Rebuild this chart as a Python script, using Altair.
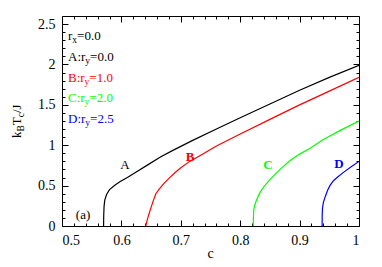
import altair as alt
import pandas as pd

# ---- data ----
names = ["A", "B", "C", "D"]
colors = ["#000000", "#ff0000", "#00ff00", "#0000ff"]

a_c = [0.570, 0.5702, 0.5708, 0.572, 0.575, 0.580, 0.590, 0.598, 0.610, 0.625, 0.645, 0.665, 0.685, 0.720, 0.760, 0.800, 0.850, 0.900, 0.950, 1.000]
a_t = [0.00, 0.12, 0.24, 0.32, 0.39, 0.45, 0.51, 0.55, 0.60, 0.67, 0.76, 0.85, 0.93, 1.06, 1.20, 1.34, 1.51, 1.68, 1.84, 1.99]

b_c = [0.641, 0.643, 0.646, 0.650, 0.654, 0.658, 0.664, 0.672, 0.680, 0.690, 0.700, 0.715, 0.732, 0.760, 0.800, 0.850, 0.900, 0.950, 1.000]
b_t = [0.00, 0.06, 0.14, 0.23, 0.32, 0.40, 0.46, 0.53, 0.59, 0.66, 0.72, 0.80, 0.87, 0.99, 1.14, 1.32, 1.50, 1.67, 1.84]

c_c = [0.822, 0.8222, 0.8228, 0.825, 0.828, 0.833, 0.839, 0.847, 0.856, 0.870, 0.884, 0.900, 0.917, 0.940, 0.970, 1.000]
c_t = [0.00, 0.10, 0.20, 0.27, 0.33, 0.41, 0.48, 0.55, 0.62, 0.72, 0.81, 0.89, 0.96, 1.07, 1.19, 1.30]

d_c = [0.938, 0.938, 0.9385, 0.940, 0.943, 0.947, 0.951, 0.957, 0.963, 0.975, 0.988, 1.000]
d_t = [0.00, 0.12, 0.22, 0.29, 0.36, 0.44, 0.50, 0.56, 0.60, 0.67, 0.74, 0.80]

label_c = [0.606, 0.7155, 0.8468, 0.9663]
label_t = [0.758, 0.857, 0.758, 0.770]
panel_label = "(a)"
panel_c, panel_t = 0.5354, 0.137

x_major = [0.5, 0.6, 0.7, 0.8, 0.9, 1.0]
x_ticks = [0.5, 0.52, 0.54, 0.56, 0.58, 0.6, 0.62, 0.64, 0.66, 0.68, 0.7, 0.72, 0.74,
           0.76, 0.78, 0.8, 0.82, 0.84, 0.86, 0.88, 0.9, 0.92, 0.94, 0.96, 0.98, 1.0]
y_major = [0, 0.5, 1, 1.5, 2, 2.5]
y_ticks = [0, 0.1, 0.2, 0.3, 0.4, 0.5, 0.6, 0.7, 0.8, 0.9, 1.0, 1.1, 1.2, 1.3, 1.4,
           1.5, 1.6, 1.7, 1.8, 1.9, 2.0, 2.1, 2.2, 2.3, 2.4, 2.5]

rows = []
for nm, cs, ts in zip(names, [a_c, b_c, c_c, d_c], [a_t, b_t, c_t, d_t]):
    for i, (c, t) in enumerate(zip(cs, ts)):
        rows.append({"c": c, "T": t, "s": nm, "o": i})
df = pd.DataFrame(rows)
lab_df = pd.DataFrame({"c": label_c, "T": label_t, "s": names})

W, H = 297, 210
FONT = "Liberation Serif"
xs = alt.Scale(domain=[0.5, 1.0], nice=False, zero=False)
ys = alt.Scale(domain=[0, 2.6], nice=False, zero=True)
cscale = alt.Scale(domain=names, range=colors)

x_test = "abs(datum.value*10 - round(datum.value*10)) < 0.001"
y_test = "abs(datum.value*2 - round(datum.value*2)) < 0.001"


def tick_axis(orient, values, test, offset):
    return alt.Axis(orient=orient, offset=offset, values=values, labels=False, domain=False,
                    grid=False, ticks=True, title=None, tickColor="black", tickWidth=1,
                    tickSize={"condition": {"test": test, "value": 6}, "value": 3})


def label_axis(orient, values, pad):
    return alt.Axis(orient=orient, values=values, format="~g", ticks=False, tickSize=0,
                    domain=False, grid=False, labelPadding=pad, title=None,
                    labelFont=FONT, labelFontSize=14, labelColor="black")


curves = alt.Chart(df).mark_line(strokeWidth=1.2, clip=True).encode(
    x=alt.X("c:Q", scale=xs, axis=label_axis("bottom", x_major, 7)),
    y=alt.Y("T:Q", scale=ys, axis=label_axis("left", y_major, 7)),
    color=alt.Color("s:N", scale=cscale, legend=None),
    order="o:Q",
)

ticks1 = alt.Chart(df).mark_point(opacity=0).encode(
    x=alt.X("c:Q", scale=xs, axis=tick_axis("top", x_ticks, x_test, -H)),
    y=alt.Y("T:Q", scale=ys, axis=tick_axis("right", y_ticks, y_test, -W)),
)
ticks2 = alt.Chart(df).mark_point(opacity=0).encode(
    x=alt.X("c:Q", scale=xs, axis=tick_axis("bottom", x_ticks, x_test, -H)),
    y=alt.Y("T:Q", scale=ys, axis=tick_axis("left", y_ticks, y_test, -W)),
)

lab_a = alt.Chart(lab_df[lab_df.s == "A"]).mark_text(font=FONT, fontSize=13).encode(
    x=alt.X("c:Q", scale=xs, axis=None), y=alt.Y("T:Q", scale=ys, axis=None),
    text="s:N", color=alt.Color("s:N", scale=cscale, legend=None))
lab_bcd = alt.Chart(lab_df[lab_df.s != "A"]).mark_text(font=FONT, fontSize=13, fontWeight="bold").encode(
    x=alt.X("c:Q", scale=xs, axis=None), y=alt.Y("T:Q", scale=ys, axis=None),
    text="s:N", color=alt.Color("s:N", scale=cscale, legend=None))
lab_panel = alt.Chart(pd.DataFrame({"c": [panel_c], "T": [panel_t], "t": [panel_label]})).mark_text(
    font=FONT, fontSize=13, color="black").encode(
    x=alt.X("c:Q", scale=xs, axis=None), y=alt.Y("T:Q", scale=ys, axis=None), text="t:N")


def piece(text, x, y, size=13, color="black", angle=0, align="left", baseline="alphabetic"):
    return alt.Chart(alt.InlineData(values=[{"k": 0}])).mark_text(
        text=text, align=align, baseline=baseline, font=FONT, fontSize=size,
        color=color, angle=angle).encode(x=alt.value(x), y=alt.value(y))


texts = []
# legend block: (prefix, subscript, rest, color, prefix width)
legend_lines = [("r", "x", "=0.0", "black", 4.33),
                ("A:r", "y", "=0.0", "black", 17.33),
                ("B:r", "y", "=1.0", "#ff0000", 16.61),
                ("C:r", "y", "=2.0", "#00ff00", 16.61),
                ("D:r", "y", "=2.5", "#0000ff", 17.33)]
baselines = [24, 45, 65.5, 86, 106.5]
for (pre, sub, rest, col, w), by in zip(legend_lines, baselines):
    x0 = 6
    texts.append(piece(pre, x0, by, color=col))
    texts.append(piece(sub, x0 + w, by + 3, size=9.5, color=col))
    texts.append(piece(rest, x0 + w + 4.75, by, color=col))

# y title k_B T_c / J (rotated)
texts.append(piece("k", -41.5, 122, angle=270))
texts.append(piece("B", -38.5, 115.5, size=9.5, angle=270))
texts.append(piece("T", -41.5, 109.2, angle=270))
texts.append(piece("c", -38.5, 101.3, size=9.5, angle=270))
texts.append(piece("/J", -41.5, 97.1, angle=270))
# x title
texts.append(piece("c", 148.5, 238, size=14, align="center", baseline="middle"))

chart = alt.layer(curves, ticks1, ticks2, lab_a, lab_bcd, lab_panel, *texts).resolve_axis(
    x="independent", y="independent"
).properties(
    width=W, height=H,
    background="white",
    autosize=alt.AutoSizeParams(type="none"),
    padding={"left": 54, "top": 8, "right": 15, "bottom": 40},
).configure_view(stroke="black", strokeWidth=1).configure_axis(
    labelFont=FONT, labelFontSize=14, labelColor="black"
)

chart.save("out.html", embed_options={"renderer": "svg", "actions": False})
